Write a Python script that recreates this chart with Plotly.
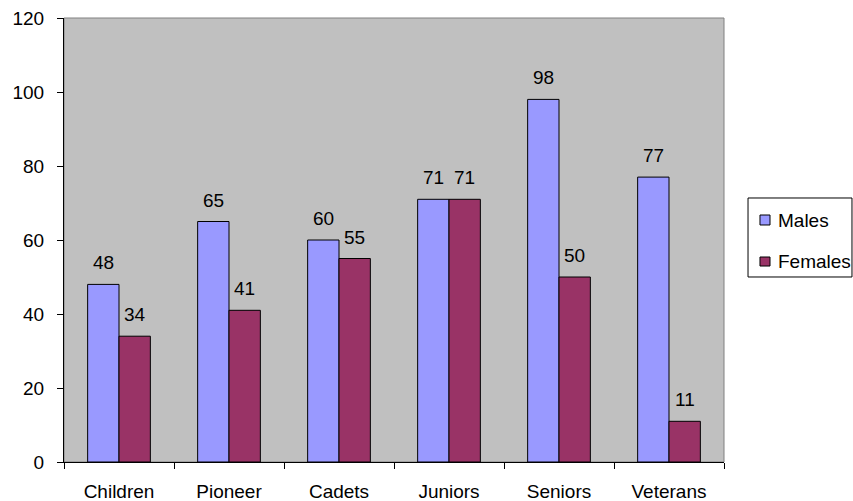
import plotly.graph_objects as go

categories = ["Children", "Pioneer", "Cadets", "Juniors", "Seniors", "Veterans"]
males = [48, 65, 60, 71, 98, 77]
females = [34, 41, 55, 71, 50, 11]
y_ticks = [0, 20, 40, 60, 80, 100, 120]

FONT = "Liberation Sans, Arial, sans-serif"
FS = 19

fig = go.Figure()
series = [
    ("Males", males, "#9999FF", -15.7),
    ("Females", females, "#993366", 15.7),
]
for name, vals, colour, shift in series:
    fig.add_trace(
        go.Bar(
            x=categories,
            y=vals,
            name=name,
            marker=dict(color=colour, line=dict(color="black", width=1)),
        )
    )
    # value labels sit a bit higher above the bars than plotly's "outside" text
    for cat, v in zip(categories, vals):
        fig.add_annotation(
            x=cat, y=v, text=str(v), showarrow=False,
            xshift=shift, yshift=9, yanchor="bottom",
            font=dict(size=FS, color="black", family=FONT),
        )

# grey frame round the plot area (top / right edges)
fig.add_shape(
    type="rect", xref="paper", yref="paper", x0=0, x1=1, y0=0, y1=1,
    line=dict(color="#808080", width=1), layer="below",
)

# Excel-style legend box on the right (plotly's own legend is too wide here)
fig.add_shape(
    type="rect", xref="paper", yref="paper",
    x0=1.0364, x1=1.1939, y0=0.4167, y1=0.5946,
    line=dict(color="black", width=1), fillcolor="white",
)
legend_rows = [(0.5338, 0.5563, 0.545), (0.4414, 0.4617, 0.4527)]
for (name, _, colour, _), (y0, y1, yt) in zip(series, legend_rows):
    fig.add_shape(
        type="rect", xref="paper", yref="paper",
        x0=1.0545, x1=1.0697, y0=y0, y1=y1,
        line=dict(color="black", width=1), fillcolor=colour,
    )
    fig.add_annotation(
        xref="paper", yref="paper", x=1.0788, y=yt, text=name,
        showarrow=False, xanchor="left", yanchor="middle",
        font=dict(size=FS, color="black", family=FONT),
    )

fig.update_layout(
    width=853,
    height=501,
    margin=dict(l=64, r=129, t=18, b=39, autoexpand=False),
    paper_bgcolor="white",
    plot_bgcolor="#C0C0C0",
    font=dict(family=FONT, size=FS, color="black"),
    barmode="group",
    bargap=0.43,
    bargroupgap=0,
    showlegend=False,
)
fig.update_yaxes(
    range=[0, 120],
    tickvals=y_ticks,
    showgrid=False,
    zeroline=False,
    showline=True,
    linecolor="black",
    linewidth=1,
    ticks="outside",
    ticklen=6,
    tickcolor="black",
    ticklabelstandoff=9,
    ticklabeloverflow="allow",
    tickfont=dict(size=FS),
    automargin=False,
)
fig.update_xaxes(
    showgrid=False,
    showline=True,
    linecolor="black",
    linewidth=1,
    ticks="outside",
    tickson="boundaries",
    ticklen=6,
    tickcolor="black",
    ticklabelstandoff=12,
    ticklabeloverflow="allow",
    tickfont=dict(size=FS),
    automargin=False,
)

# drop the page's default 8px body margin so the figure fills the window
fig.write_html(
    "out.html",
    config={"displayModeBar": False},
    post_script="document.body.style.margin = '0'; document.body.style.overflow = 'hidden';",
)
